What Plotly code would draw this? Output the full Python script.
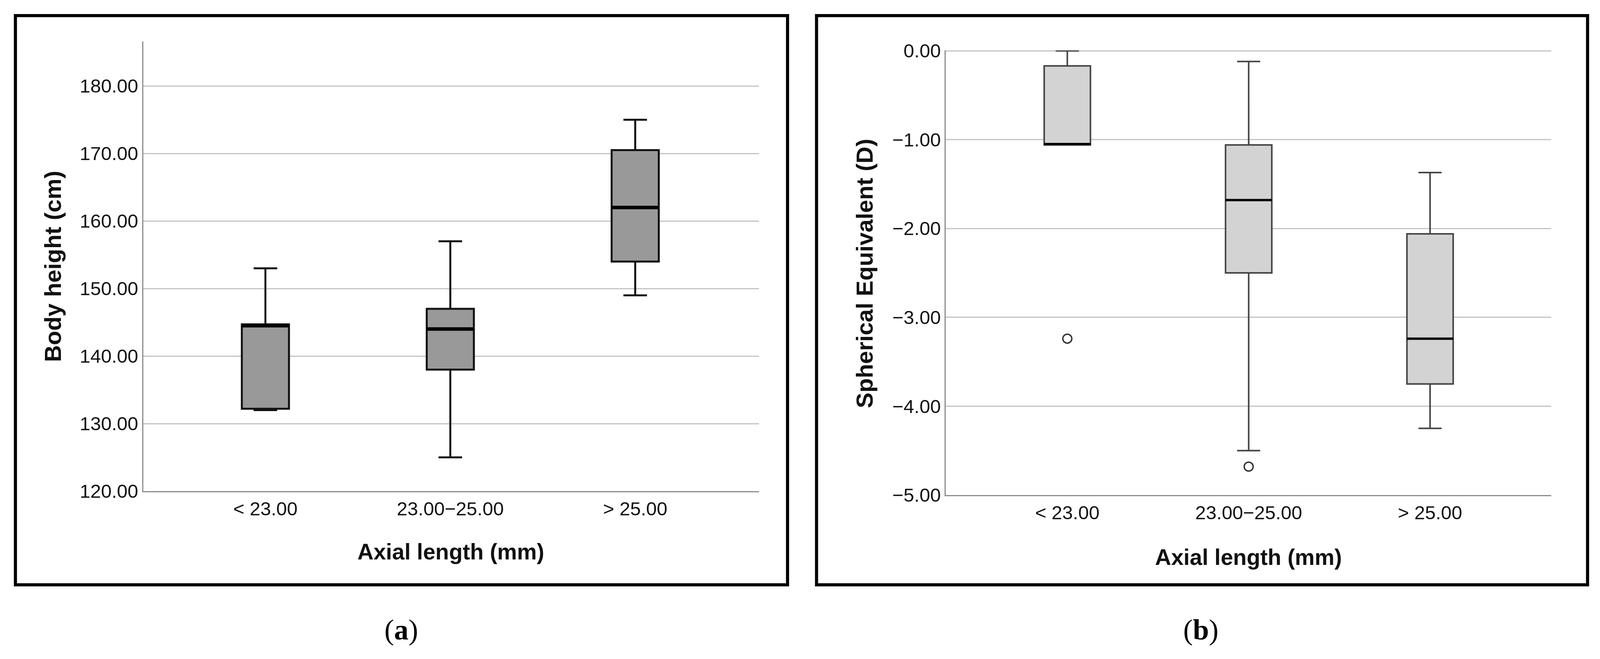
import plotly.graph_objects as go

# ---------------- data ----------------
categories = ["< 23.00", "23.00\u221225.00", "> 25.00"]

# Panel (a): Body height (cm)
a_lower = [132.0, 125.0, 149.0]
a_q1 = [132.2, 138.0, 154.0]
a_median = [144.5, 144.0, 162.0]
a_q3 = [144.7, 147.0, 170.5]
a_upper = [153.0, 157.0, 175.0]
a_ticks = [120, 130, 140, 150, 160, 170, 180]

# Panel (b): Spherical Equivalent (D)
b_lower = [-1.06, -4.50, -4.25]
b_q1 = [-1.06, -2.50, -3.75]
b_median = [-1.05, -1.68, -3.24]
b_q3 = [-0.17, -1.06, -2.06]
b_upper = [0.0, -0.12, -1.37]
b_out_idx = [0, 1]
b_out_val = [-3.24, -4.68]
b_ticks = [0, -1, -2, -3, -4, -5]

# ---------------- geometry ----------------
# The photographed viewport shows about 4098 x 1690 page pixels; the page body
# has an 8 px margin.  Reference pixel positions are mapped into that area.
W, H = 4090, 1680
REF_W, VIS_W = 4360, 4098
SX = VIS_W / REF_W
MARGIN = 8


def X(xr):
    return (xr * SX - MARGIN) / W


def Y(yr):
    return 1 - (yr - MARGIN) / H


xpos = list(range(len(categories)))
BOXW = 0.255

fig = go.Figure()


def add_panel(xa, ya, lower, q1, med, q3, upper, fill, lcolor, lw, medw):
    fig.add_trace(go.Box(
        x=xpos, lowerfence=lower, q1=q1, median=med, q3=q3, upperfence=upper,
        width=BOXW, whiskerwidth=0.5, fillcolor=fill,
        line=dict(color=lcolor, width=lw), boxpoints=False,
        xaxis=xa, yaxis=ya, showlegend=False, hoverinfo="skip",
    ))
    # thicker median bar
    mx, my = [], []
    for i, m in zip(xpos, med):
        mx += [i - BOXW / 2, i + BOXW / 2, None]
        my += [m, m, None]
    fig.add_trace(go.Scatter(
        x=mx, y=my, mode="lines", line=dict(color="black", width=medw),
        xaxis=xa, yaxis=ya, showlegend=False, hoverinfo="skip",
    ))


add_panel("x", "y", a_lower, a_q1, a_median, a_q3, a_upper,
          "#999999", "#111111", 5, 9)
add_panel("x2", "y2", b_lower, b_q1, b_median, b_q3, b_upper,
          "#d3d3d3", "#444444", 4, 6)

fig.add_trace(go.Scatter(
    x=b_out_idx, y=b_out_val, mode="markers",
    marker=dict(symbol="circle-open", size=23, color="#333333",
                line=dict(width=3.5, color="#333333")),
    xaxis="x2", yaxis="y2", showlegend=False, hoverinfo="skip",
))

tickfont = dict(family="Liberation Sans, Arial, sans-serif", size=49, color="#111111")
axis_common = dict(showline=True, linecolor="#8c8c8c", linewidth=3,
                   ticks="", zeroline=False, automargin=False, tickfont=tickfont,
                   fixedrange=True)

fig.update_layout(
    width=W, height=H,
    margin=dict(l=0, r=0, t=0, b=0),
    paper_bgcolor="white", plot_bgcolor="white",
    xaxis=dict(domain=[X(390), X(2067)], range=[-0.661, 2.669],
               tickvals=xpos, ticktext=categories, showgrid=False,
               anchor="y", **axis_common),
    yaxis=dict(domain=[Y(1258), Y(106)], range=[120, 186.6],
               tickvals=a_ticks, ticktext=[f"{v:.2f}" for v in a_ticks],
               showgrid=True, gridcolor="#c4c4c4", gridwidth=3,
               anchor="x", **axis_common),
    xaxis2=dict(domain=[X(2576), X(4225)], range=[-0.67, 2.668],
                tickvals=xpos, ticktext=categories, showgrid=False,
                anchor="y2", **axis_common),
    yaxis2=dict(domain=[Y(1268), Y(129)], range=[-5, 0.005],
                tickvals=b_ticks,
                ticktext=[f"{v:.2f}".replace("-", "\u2212") for v in b_ticks],
                showgrid=True, gridcolor="#c4c4c4", gridwidth=3,
                anchor="x2", **axis_common),
)

# frames
for x0, x1 in [(42, 2145), (2224, 4324)]:
    fig.add_shape(type="rect", xref="paper", yref="paper",
                  x0=X(x0), x1=X(x1), y0=Y(1498), y1=Y(40),
                  line=dict(color="black", width=8), fillcolor="rgba(0,0,0,0)")

xtitle_font = dict(family="Liberation Sans, Arial, sans-serif", size=57, color="#111111")
ytitle_font = dict(family="Liberation Sans, Arial, sans-serif", size=60, color="#111111")
# x titles
fig.add_annotation(text="<b>Axial length (mm)</b>", xref="paper", yref="paper",
                   x=X(1228), y=Y(1413), showarrow=False, font=xtitle_font,
                   xanchor="center", yanchor="middle")
fig.add_annotation(text="<b>Axial length (mm)</b>", xref="paper", yref="paper",
                   x=X(3400), y=Y(1427), showarrow=False, font=xtitle_font,
                   xanchor="center", yanchor="middle")
# y titles
fig.add_annotation(text="<b>Body height (cm)</b>", xref="paper", yref="paper",
                   x=X(144), y=Y(682), showarrow=False, font=ytitle_font,
                   textangle=-90, xanchor="center", yanchor="middle")
fig.add_annotation(text="<b>Spherical Equivalent (D)</b>", xref="paper", yref="paper",
                   x=X(2355), y=Y(700), showarrow=False, font=ytitle_font,
                   textangle=-90, xanchor="center", yanchor="middle")
# panel labels
lab_font = dict(family="Liberation Serif, Times New Roman, serif", size=74, color="black")
fig.add_annotation(text="(<b>a</b>)", xref="paper", yref="paper",
                   x=X(1093), y=Y(1613), showarrow=False, font=lab_font,
                   xanchor="center", yanchor="middle")
fig.add_annotation(text="(<b>b</b>)", xref="paper", yref="paper",
                   x=X(3270), y=Y(1613), showarrow=False, font=lab_font,
                   xanchor="center", yanchor="middle")

fig.write_html("out.html")
